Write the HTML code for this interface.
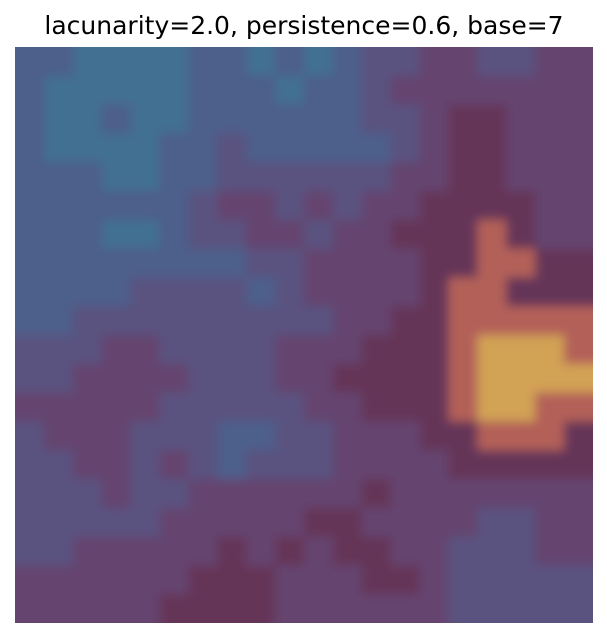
<!DOCTYPE html>
<html><head><meta charset="utf-8"><style>
html,body{margin:0;padding:0;background:#fff;width:607px;height:639px;overflow:hidden}
svg{display:block}
</style></head><body>
<svg id="chart" width="607" height="639">
<defs>
<clipPath id="plotclip"><rect x="15" y="47" width="578" height="576"/></clipPath>
<filter id="soft" x="-5%" y="-5%" width="110%" height="110%"><feGaussianBlur stdDeviation="5"/></filter>
</defs>
<text x="304" y="34" text-anchor="middle" font-family="DejaVu Sans, Liberation Sans, sans-serif" font-size="25" fill="#000">lacunarity=2.0, persistence=0.6, base=7</text>
<g clip-path="url(#plotclip)"><g id="cells" filter="url(#soft)"></g></g>
</svg>
<script>
const levelColors = ["#426f92","#4e5f8b","#5a5380","#654470","#653558","#b36058","#d2a254"];
const row0=[1,1,0,0,0,0,1,1,0,1,0,1,2,2,3,3,2,2,3,3];
const row1=[1,0,0,0,0,0,1,1,1,0,1,1,2,3,3,3,3,3,3,3];
const row2=[1,0,0,1,0,0,1,1,1,1,1,1,2,2,3,4,4,3,3,3];
const row3=[1,0,0,0,0,1,1,2,1,1,1,1,1,2,3,4,4,3,3,3];
const row4=[1,1,1,0,0,1,1,2,2,2,2,2,2,3,3,4,4,3,3,3];
const row5=[1,1,1,1,1,1,2,3,3,2,3,2,3,3,4,4,4,4,3,3];
const row6=[1,1,1,0,0,1,2,2,3,3,2,3,3,4,4,4,5,4,3,3];
const row7=[1,1,1,1,1,1,1,1,2,2,3,3,3,3,4,4,5,5,4,4];
const row8=[1,1,1,1,2,2,2,2,1,2,3,3,3,3,4,5,5,4,4,4];
const row9=[1,1,2,2,2,2,2,2,2,2,2,3,3,4,4,5,5,5,5,5];
const row10=[2,2,2,3,3,2,2,2,2,3,3,3,4,4,4,5,6,6,6,5];
const row11=[2,2,3,3,3,3,2,2,2,3,3,4,4,4,4,5,6,6,6,6];
const row12=[3,3,3,3,3,2,2,2,2,2,3,3,4,4,4,5,6,6,5,5];
const row13=[2,3,3,3,2,2,2,1,1,2,2,3,3,3,4,4,5,5,5,4];
const row14=[2,2,3,3,2,3,2,1,2,2,2,3,3,3,3,4,4,4,4,4];
const row15=[2,2,2,3,2,2,3,3,3,3,3,3,4,3,3,3,3,3,3,3];
const row16=[2,2,2,2,2,3,3,3,3,3,4,4,3,3,3,3,2,2,3,3];
const row17=[2,2,3,3,3,3,3,4,3,4,3,4,4,3,3,2,2,2,3,3];
const row18=[3,3,3,3,3,3,4,4,4,3,3,3,4,4,3,2,2,2,2,2];
const row19=[3,3,3,3,3,4,4,4,4,3,3,3,3,3,3,2,2,2,2,2];
const grid=[row0,row1,row2,row3,row4,row5,row6,row7,row8,row9,row10,row11,row12,row13,row14,row15,row16,row17,row18,row19];

const X0=15,X1=593,Y0=47,Y1=623;
const nCols=grid[0].length,nRows=grid.length;
const xScale=i=>X0+(X1-X0)*i/nCols;
const yScale=j=>Y0+(Y1-Y0)*j/nRows;
const g=document.getElementById('cells');
const NS='http://www.w3.org/2000/svg';
grid.forEach((row,j)=>row.forEach((v,i)=>{
  const r=document.createElementNS(NS,'rect');
  const x=i===0?xScale(i)-15:xScale(i);
  const y=j===0?yScale(j)-15:yScale(j);
  const x2=i===nCols-1?xScale(i+1)+15:xScale(i+1)+0.5;
  const y2=j===nRows-1?yScale(j+1)+15:yScale(j+1)+0.5;
  r.setAttribute('x',x);
  r.setAttribute('y',y);
  r.setAttribute('width',x2-x);
  r.setAttribute('height',y2-y);
  r.setAttribute('fill',levelColors[v]);
  
  
  g.appendChild(r);
}));
</script>
</body></html>
